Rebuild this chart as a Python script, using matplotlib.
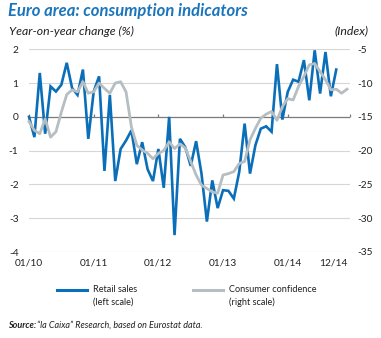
import numpy as np
import matplotlib
matplotlib.use("Agg")
import matplotlib.pyplot as plt
from matplotlib.lines import Line2D

plt.rcParams['font.family'] = ['Lato', 'DejaVu Sans']
plt.rcParams['axes.unicode_minus'] = False

# Monthly series, January 2010 onwards
retail_sales = [
    0.0, -0.6, 1.3, -0.5, 0.9, 0.75, 0.95, 1.6, 0.85, 0.65, 1.4, -0.65,
    0.75, 1.2, -1.6, 0.65, -1.9, -0.95, -0.7, -0.4, -1.4, -0.75, -1.55, -1.9,
    -0.95, -2.1, 0.0, -3.5, -0.65, -0.9, -1.45, -0.72, -1.68, -3.1, -1.88, -2.7,
    -2.17, -2.19, -2.42, -1.63, -0.2, -1.68, -0.84, -0.35, -0.28, -0.44, 1.56, -0.08,
    0.74, 1.1, 1.04, 1.68, 0.49, 1.97, 0.69, 1.92, 0.61, 1.4,
]
consumer_confidence = [
    -15.7, -17.0, -17.5, -15.3, -18.0, -17.2, -14.3, -11.7, -11.0, -11.3, -9.8, -11.5,
    -11.3, -10.0, -10.8, -11.5, -10.0, -9.8, -11.3, -16.5, -19.2, -19.9, -20.4, -21.2,
    -20.4, -20.0, -18.7, -19.7, -19.0, -19.6, -21.6, -23.6, -25.1, -25.6, -26.1, -26.3,
    -23.6, -23.4, -23.1, -21.9, -21.6, -18.4, -16.7, -15.2, -14.6, -14.2, -15.5, -13.5,
    -12.3, -12.5, -10.5, -9.0, -7.3, -7.1, -8.3, -9.5, -11.0, -10.9, -11.5, -10.9,
]
tick_months = [0, 12, 24, 36, 48, 59]
tick_labels = ['01/10', '01/11', '01/12', '01/13', '01/14', '12/14']
left_ticks = [2, 1, 0, -1, -2, -3, -4]
right_ticks = [-5, -10, -15, -20, -25, -30, -35]

BLUE = '#0a6fb8'
GREY = '#b6bec2'
TEXT = '#231f20'

W, H = 381, 338
fig = plt.figure(figsize=(W / 100, H / 100), dpi=100)

x0, x1, ytop, ybot = 29, 350, 49.3, 252
ax = fig.add_axes([x0 / W, 1 - ybot / H, (x1 - x0) / W, (ybot - ytop) / H])
ax.set_xlim(0, 59.55)
ax.set_ylim(-4, 2)
for s in ax.spines.values():
    s.set_visible(False)

# horizontal gridlines, with a darker zero line
for v in left_ticks:
    if v == 0:
        continue
    ax.axhline(v, color='#d6d6d6', lw=0.8, zorder=1)
ax.axhline(0, color='#7a7a7a', lw=0.9, zorder=1)
year_marks = tick_months[:-1] + [59.55]
ax.plot(year_marks, [0] * len(year_marks), linestyle='none', marker=2,
        markersize=2.5, color='#7a7a7a', markeredgewidth=0.9, clip_on=False, zorder=1)

months = np.arange(len(retail_sales))
ax.plot(months, retail_sales, color=BLUE, lw=1.9, solid_joinstyle='miter',
        clip_on=False, zorder=3)

ax.set_yticks(left_ticks)
ax.set_yticklabels([str(v) for v in left_ticks])
ax.tick_params(axis='y', length=0, pad=7.5, labelsize=7.3, labelcolor=TEXT)
ax.set_xticks(tick_months)
ax.set_xticklabels(tick_labels)
ax.tick_params(axis='x', length=0, pad=5, labelsize=7.3, labelcolor=TEXT)
lbls = ax.get_xticklabels()
lbls[-1].set_horizontalalignment('right')
lbls[-1].set_x(59.55)

ax2 = ax.twinx()
ax2.set_ylim(-35, -5)
for s in ax2.spines.values():
    s.set_visible(False)
ax2.plot(np.arange(len(consumer_confidence)), consumer_confidence, color=GREY,
         lw=2.0, clip_on=False, zorder=3)
ax2.set_yticks(right_ticks)
ax2.set_yticklabels([str(v) for v in right_ticks])
ax2.tick_params(axis='y', length=0, pad=5, labelsize=7.3, labelcolor=TEXT)

# titles
fig.text(8 / W, 1 - 11 / H, 'Euro area: consumption indicators', color='#1b75bc',
         fontsize=12, fontweight='bold', style='italic', va='center', ha='left')
fig.text(9 / W, 1 - 31 / H, 'Year-on-year change (%)', color=TEXT,
         fontsize=8.8, style='italic', va='center', ha='left')
fig.text(368 / W, 1 - 31 / H, '(Index)', color=TEXT,
         fontsize=8.8, style='italic', va='center', ha='right')

# legend
for (lx, col, l1, l2) in [(57, BLUE, 'Retail sales', '(left scale)'),
                          (193, GREY, 'Consumer confidence', '(right scale)')]:
    fig.add_artist(Line2D([lx / W, (lx + 30) / W], [1 - 290 / H] * 2,
                          color=col, lw=2.2, transform=fig.transFigure))
    fig.text((lx + 36) / W, 1 - 290 / H, l1, fontsize=6.6, color=TEXT, va='center')
    fig.text((lx + 36) / W, 1 - 302 / H, l2, fontsize=6.6, color=TEXT, va='center')

fig.text(8 / W, 1 - 325 / H, 'Source:', fontsize=6.5, fontweight='bold',
         style='italic', color=TEXT, va='center')
fig.text(37 / W, 1 - 325 / H, '\u201cla Caixa\u201d Research, based on Eurostat data.',
         fontsize=6.5, style='italic', color=TEXT, va='center')

fig.savefig('out.png', dpi=100)
